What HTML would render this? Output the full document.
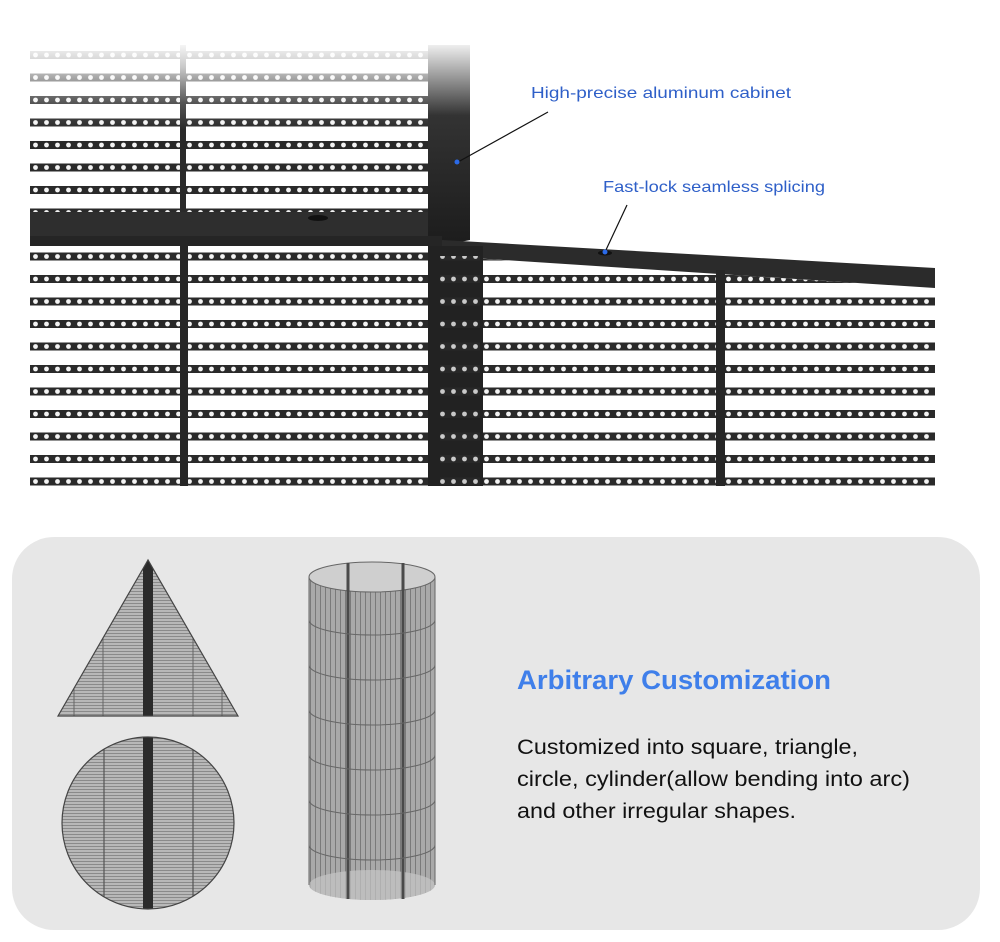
<!DOCTYPE html>
<html><head><meta charset="utf-8"><style>
html,body{margin:0;padding:0;background:#fff;}
svg{display:block;}
</style></head><body>
<svg width="1000" height="942" viewBox="0 0 1000 942" xmlns="http://www.w3.org/2000/svg" font-family="Liberation Sans, sans-serif">
<defs>
<pattern id="leds" x="30" y="0" width="11" height="22.5" patternUnits="userSpaceOnUse">
  <rect x="0" y="6" width="11" height="8" fill="#2a2a2a"/>
  <circle cx="5.5" cy="10" r="2.4" fill="#f4f4f4"/>
</pattern>
<pattern id="leds2" x="30" y="0" width="11" height="22.5" patternUnits="userSpaceOnUse">
  <rect x="0" y="5" width="11" height="8" fill="#2a2a2a"/>
  <circle cx="5.5" cy="9" r="2.4" fill="#f4f4f4"/>
</pattern>
<linearGradient id="fade" x1="0" y1="0" x2="0" y2="1">
  <stop offset="0" stop-color="#fff" stop-opacity="1"/>
  <stop offset="0.3" stop-color="#fff" stop-opacity="0.75"/>
  <stop offset="0.7" stop-color="#fff" stop-opacity="0.2"/>
  <stop offset="1" stop-color="#fff" stop-opacity="0"/>
</linearGradient>
<linearGradient id="colg" x1="0" y1="0" x2="0" y2="1">
  <stop offset="0" stop-color="#eee"/>
  <stop offset="0.35" stop-color="#333"/>
  <stop offset="1" stop-color="#1c1c1c"/>
</linearGradient>
<pattern id="hl" width="4" height="3" patternUnits="userSpaceOnUse">
  <rect width="4" height="3" fill="#b8b8b8"/>
  <rect y="0" width="4" height="1" fill="#8a8a8a"/>
</pattern>
<pattern id="vl" width="5" height="4" patternUnits="userSpaceOnUse">
  <rect width="5" height="4" fill="#a9a9a9"/>
  <rect x="0" width="1" height="4" fill="#7a7a7a"/>
</pattern>
<clipPath id="tri"><polygon points="148,560 58,716 238,716"/></clipPath>
<clipPath id="circ"><circle cx="148" cy="823" r="86"/></clipPath>
<clipPath id="low"><polygon points="30,246 470,246 470,258 935,288 935,487 30,487"/></clipPath>
</defs>

<rect x="30" y="50" width="410" height="190" fill="url(#leds)"/>
<rect x="180" y="45" width="6" height="195" fill="#2a2a2a"/>
<rect x="30" y="40" width="440" height="90" fill="url(#fade)"/>
<rect x="30" y="212" width="412" height="30" fill="#2e2e2e"/>
<rect x="30" y="222" width="412" height="8" fill="url(#leds)"/>
<polygon points="428,45 470,45 470,240 440,246 428,246" fill="url(#colg)"/>
<rect x="30" y="248" width="905" height="238" fill="url(#leds2)" clip-path="url(#low)"/>
<rect x="30" y="236" width="412" height="10" fill="#252525"/>
<polygon points="442,240 935,268 935,288 442,256" fill="#2b2b2b"/>
<rect x="180" y="240" width="8" height="246" fill="#262626"/>
<rect x="716" y="270" width="9" height="216" fill="#262626"/>
<rect x="428" y="246" width="55" height="240" fill="#222"/>
<rect x="440" y="256" width="40" height="230" fill="url(#leds2)" opacity="0.8"/>
<ellipse cx="605" cy="253" rx="7" ry="2.5" fill="#111"/>
<ellipse cx="318" cy="218" rx="10" ry="3" fill="#111"/>

<line x1="548" y1="112" x2="458" y2="162" stroke="#111" stroke-width="1.2"/>
<circle cx="457" cy="162" r="2.5" fill="#2b6ae8"/>
<line x1="627" y1="205" x2="605" y2="252" stroke="#111" stroke-width="1.2"/>
<circle cx="605" cy="252" r="2.5" fill="#2b6ae8"/>
<text x="531" y="98" font-size="16" fill="#2e5fc8" textLength="260" lengthAdjust="spacingAndGlyphs">High-precise aluminum cabinet</text>
<text x="603" y="192" font-size="16" fill="#2e5fc8" textLength="222" lengthAdjust="spacingAndGlyphs">Fast-lock seamless splicing</text>

<rect x="12" y="537" width="968" height="393" rx="42" fill="#e7e7e7"/>

<g clip-path="url(#tri)">
  <rect x="50" y="555" width="200" height="170" fill="url(#hl)"/>
  <g stroke="#666" stroke-width="1">
    <line x1="74" y1="555" x2="74" y2="720"/><line x1="103" y1="555" x2="103" y2="720"/>
    <line x1="193" y1="555" x2="193" y2="720"/><line x1="222" y1="555" x2="222" y2="720"/>
  </g>
  <rect x="143" y="555" width="10" height="165" fill="#2b2b2b"/>
</g>
<polygon points="148,560 58,716 238,716" fill="none" stroke="#444" stroke-width="1.2"/>

<g clip-path="url(#circ)">
  <rect x="60" y="735" width="180" height="180" fill="url(#hl)"/>
  <g stroke="#555" stroke-width="1.2">
    <line x1="104" y1="735" x2="104" y2="915"/><line x1="193" y1="735" x2="193" y2="915"/>
  </g>
  <rect x="143" y="735" width="10" height="180" fill="#2b2b2b"/>
</g>
<circle cx="148" cy="823" r="86" fill="none" stroke="#444" stroke-width="1.2"/>

<path d="M309,577 L309,885 A63,15 0 0 0 435,885 L435,577 Z" fill="url(#vl)"/>
<ellipse cx="372" cy="577" rx="63" ry="15" fill="#cfcfcf" stroke="#666" stroke-width="1"/>
<ellipse cx="372" cy="885" rx="63" ry="15" fill="#c6c6c6" opacity="0.7"/>
<g stroke="#4a4a4a" stroke-width="3">
  <line x1="348" y1="563" x2="348" y2="899"/><line x1="403" y1="563" x2="403" y2="899"/>
</g>
<g fill="none" stroke="#666" stroke-width="1">
  <path d="M309,620 A63,15 0 0 0 435,620"/>
  <path d="M309,665 A63,15 0 0 0 435,665"/>
  <path d="M309,710 A63,15 0 0 0 435,710"/>
  <path d="M309,755 A63,15 0 0 0 435,755"/>
  <path d="M309,800 A63,15 0 0 0 435,800"/>
  <path d="M309,845 A63,15 0 0 0 435,845"/>
  <line x1="309" y1="577" x2="309" y2="885"/><line x1="435" y1="577" x2="435" y2="885"/>
</g>

<text x="517" y="689" font-size="27" font-weight="bold" fill="#3f7fea" textLength="314" lengthAdjust="spacingAndGlyphs">Arbitrary Customization</text>
<text x="517" y="754" font-size="21" fill="#111" textLength="341" lengthAdjust="spacingAndGlyphs">Customized into square, triangle,</text>
<text x="517" y="786" font-size="21" fill="#111" textLength="393" lengthAdjust="spacingAndGlyphs">circle, cylinder(allow bending into arc)</text>
<text x="517" y="818" font-size="21" fill="#111" textLength="279" lengthAdjust="spacingAndGlyphs">and other irregular shapes.</text>
</svg>
</body></html>
